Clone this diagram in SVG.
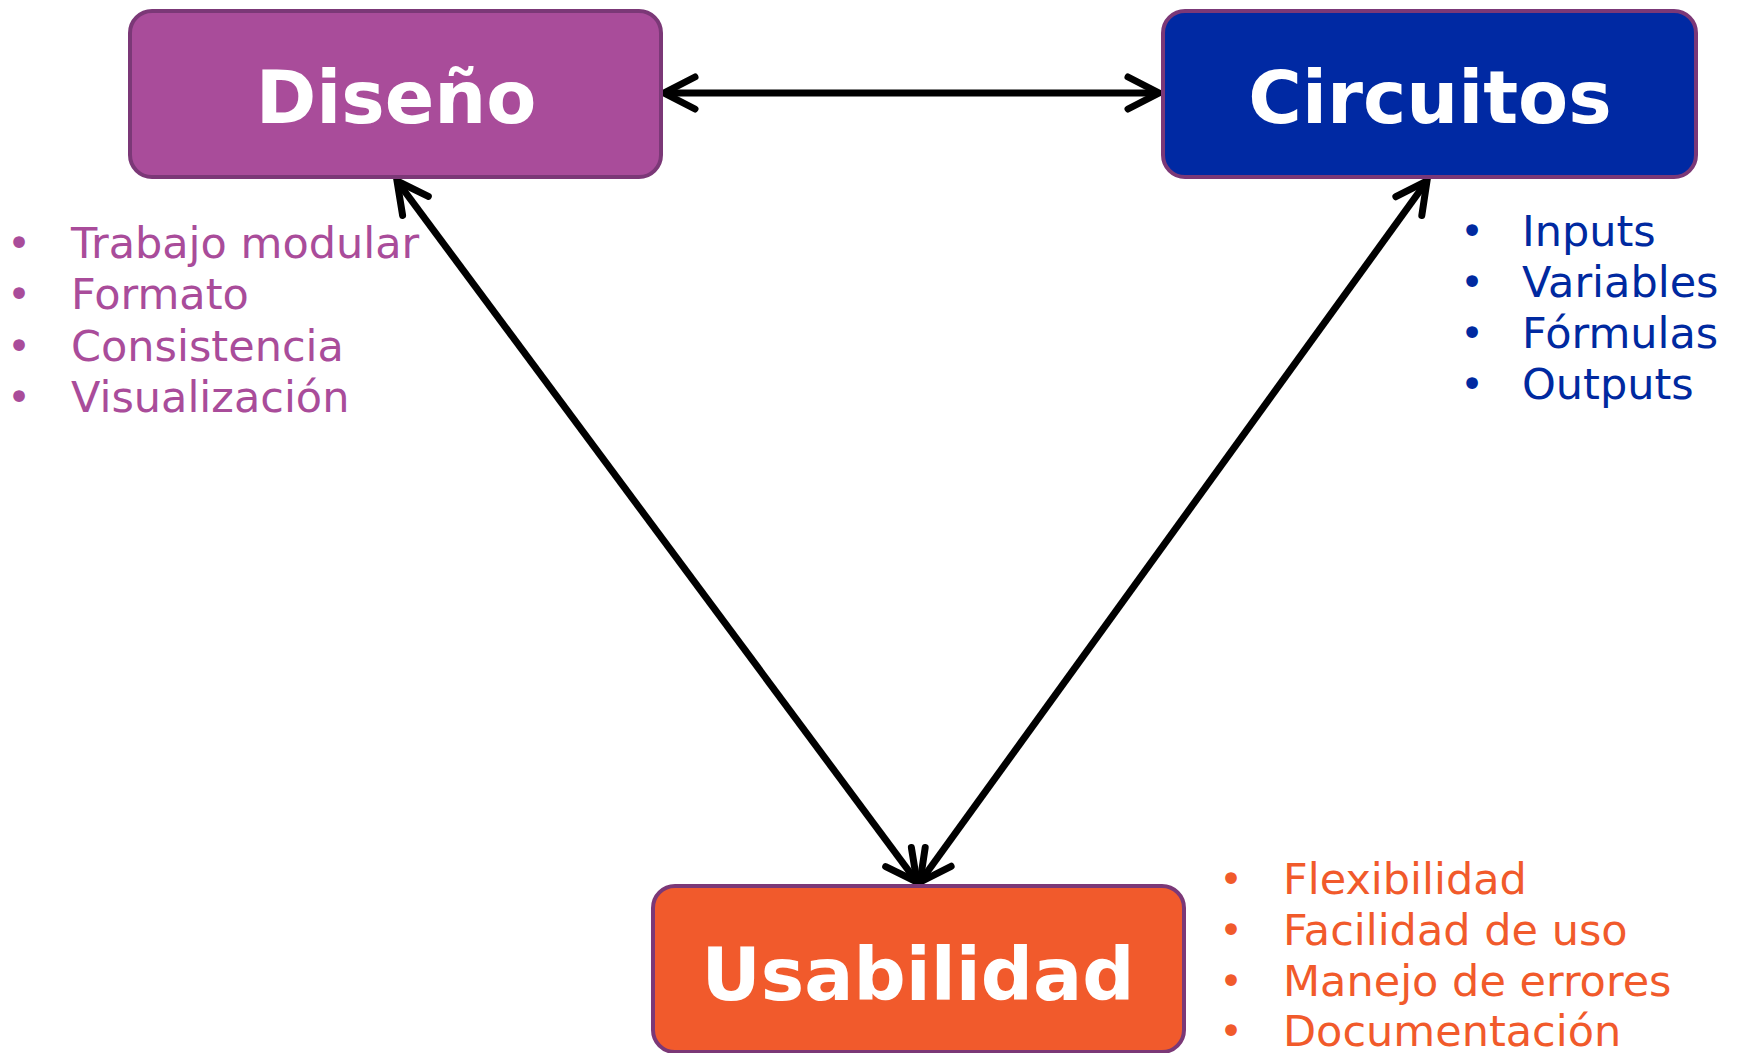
<svg xmlns="http://www.w3.org/2000/svg" width="1739" height="1053" viewBox="0 0 1739 1053">
<style>
.box{stroke:#7B3877;stroke-width:4}
.title{font-family:"DejaVu Sans",Verdana,sans-serif;font-weight:bold;font-size:73px;fill:#ffffff;text-anchor:middle}
.item{font-family:"DejaVu Sans",Verdana,sans-serif;font-size:43px}
.bul{font-family:"DejaVu Sans",Verdana,sans-serif;font-size:40px;text-anchor:middle}
.conn{stroke:#000;stroke-width:7;fill:none}
.p{fill:#A94C9A}.b{fill:#0029A0}.o{fill:#F15A2B}
</style>
<defs>
<marker id="ah" markerUnits="userSpaceOnUse" markerWidth="50" markerHeight="50" viewBox="-40 -25 50 50" refX="0" refY="0" orient="auto-start-reverse">
<path d="M-31,-16 L0,0 L-31,16" fill="none" stroke="#000" stroke-width="7" stroke-linecap="round" stroke-linejoin="miter"/>
</marker>
</defs>
<g id="connectors">
<line class="conn" x1="664" y1="93" x2="1159" y2="93" marker-start="url(#ah)" marker-end="url(#ah)"/>
<line class="conn" x1="397" y1="181" x2="917" y2="882" marker-start="url(#ah)" marker-end="url(#ah)"/>
<line class="conn" x1="1427" y1="181" x2="920" y2="882" marker-start="url(#ah)" marker-end="url(#ah)"/>
</g>
<g id="diseno">
<rect class="box" x="130" y="11" width="531" height="166" rx="22" fill="#A94C9A"/>
<text class="title" x="396" y="123">Diseño</text>
<g class="p">
<text class="bul" x="19" y="257">•</text><text class="item" x="71" y="258">Trabajo modular</text>
<text class="bul" x="19" y="308">•</text><text class="item" x="71" y="309">Formato</text>
<text class="bul" x="19" y="360">•</text><text class="item" x="71" y="361">Consistencia</text>
<text class="bul" x="19" y="411">•</text><text class="item" x="71" y="412">Visualización</text>
</g>
</g>
<g id="circuitos">
<rect class="box" x="1163" y="11" width="533" height="166" rx="22" fill="#0029A3"/>
<text class="title" x="1430" y="123">Circuitos</text>
<g class="b">
<text class="bul" x="1472" y="245">•</text><text class="item" x="1522" y="246">Inputs</text>
<text class="bul" x="1472" y="296">•</text><text class="item" x="1522" y="297">Variables</text>
<text class="bul" x="1472" y="347">•</text><text class="item" x="1522" y="348">Fórmulas</text>
<text class="bul" x="1472" y="398">•</text><text class="item" x="1522" y="399">Outputs</text>
</g>
</g>
<g id="usabilidad">
<rect class="box" x="653" y="886" width="531" height="166" rx="22" fill="#F15A2C"/>
<text class="title" x="918" y="1000">Usabilidad</text>
<g class="o">
<text class="bul" x="1231" y="893">•</text><text class="item" x="1283" y="894">Flexibilidad</text>
<text class="bul" x="1231" y="944">•</text><text class="item" x="1283" y="945">Facilidad de uso</text>
<text class="bul" x="1231" y="995">•</text><text class="item" x="1283" y="996">Manejo de errores</text>
<text class="bul" x="1231" y="1045">•</text><text class="item" x="1283" y="1046">Documentación</text>
</g>
</g>
</svg>
